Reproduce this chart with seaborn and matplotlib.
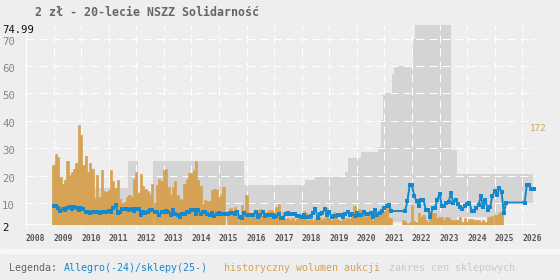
import numpy as np
import pandas as pd
import matplotlib
matplotlib.use("Agg")
import matplotlib.pyplot as plt
import seaborn as sns
from matplotlib.patches import Rectangle
from matplotlib.transforms import blended_transform_factory, ScaledTranslation

# Tytul i opis
title = "2 zł - 20-lecie NSZZ Solidarność"
legend_parts = [("Legenda: ", "#666666"), ("Allegro(-24)/sklepy(25-)", "#1688cc"),
                ("historyczny wolumen aukcji", "#d6a253"), ("zakres cen sklepowych", "#c9c9c9")]

# Miesieczne dane od stycznia 2009
first_year = 2009

allegro_price = [
    9.0, 9.0, 8.2, 7.2, 7.8, 7.6, 8.2, 8.4, 7.8, 8.5, 8.2, 7.6,           # 2009
    8.2, 7.8, 6.9, 6.7, 6.4, 6.6, 6.7, 6.9, 6.4, 6.6, 6.9, 6.7,           # 2010
    7.2, 6.9, 8.2, 9.4, 6.4, 6.7, 7.9, 7.9, 7.9, 7.6, 7.8, 7.2,           # 2011
    7.9, 7.9, 5.7, 6.9, 6.4, 6.9, 7.6, 7.3, 6.7, 6.7, 5.7, 6.7,           # 2012
    6.7, 7.1, 6.7, 5.8, 7.3, 6.1, 5.5, 4.9, 6.1, 6.1, 6.7, 6.7,           # 2013
    7.6, 7.6, 6.1, 7.3, 6.1, 6.7, 6.7, 6.1, 5.5, 6.4, 5.4, 6.1,           # 2014
    6.4, 6.1, 6.1, 6.1, 6.1, 6.4, 6.4, 6.1, 6.6, 4.9, 4.6, 6.4,           # 2015
    5.5, 5.5, 5.5, 5.5, 6.9, 4.9, 5.7, 6.6, 5.4, 5.7, 5.7, 5.7,           # 2016
    4.9, 5.4, 6.1, 4.6, 4.6, 6.1, 6.3, 6.1, 5.9, 6.1, 5.4, 5.4,           # 2017
    5.1, 5.7, 4.9, 4.9, 5.4, 6.4, 7.8, 4.6, 6.1, 6.5, 7.8, 5.7,           # 2018
    6.6, 5.1, 5.4, 5.4, 5.7, 5.7, 4.9, 6.1, 6.6, 5.7, 6.1, 5.4,           # 2019
    6.4, 5.7, 5.7, 6.6, 6.1, 6.1, 6.4, 5.1, 7.6, 5.8, 6.4, 7.2,           # 2020
    8.1, 8.8, 9.2, 7.1, np.nan, np.nan, np.nan, np.nan, np.nan, 7.1, 10.6, 16.5,  # 2021
    16.5, 12.6, 10.6, 9.0, 11.2, 11.2, 7.6, 7.6, 5.1, 8.1, 8.1, 11.2,     # 2022
    13.4, 9.0, 9.0, 10.0, 10.5, 13.8, 10.0, 11.2, 9.6, 8.5, 7.8, 8.8,     # 2023
    9.5, 10.2, 7.2, 7.2, 8.2, 9.4, 12.5, 8.4, 11.2, 7.6, 8.5, 12.5,       # 2024
    14.4, 12.8, 15.6, 14.2, 6.2, 10.2, np.nan, np.nan, np.nan, np.nan, np.nan, np.nan,  # 2025
    np.nan, 10.2, 16.5, 16.5, 15.3, 15.3,                                 # 2026
]

auction_volume = [
    23.9, 28.0, 26.9, 19.6, 17.0, 18.5, 25.4, 20.1, 21.5, 22.5, 24.7, 38.6,
    34.9, 24.0, 27.3, 21.5, 24.7, 22.5, 11.8, 20.3, 12.4, 22.2, 14.5, 13.9,
    14.9, 22.2, 18.2, 15.5, 18.5, 11.6, 10.2, 10.3, 12.2, 13.0, 12.2, 18.8,
    21.4, 13.6, 20.7, 16.3, 15.1, 14.5, 13.0, 17.0, 10.0, 16.7, 18.8, 17.9,
    22.2, 22.5, 15.8, 13.0, 15.7, 18.2, 13.0, 11.5, 11.2, 17.0, 18.8, 20.9,
    20.9, 22.0, 25.2, 18.5, 16.1, 9.8, 11.2, 10.9, 10.9, 14.9, 15.3, 14.7,
    12.4, 13.4, 15.8, np.nan, 5.7, 8.2, 5.7, 8.5, 6.6, 5.4, 9.4, 7.6,
    13.0, 6.4, 5.7, 6.9, 5.7, 7.6, 7.9, 5.4, 5.7, 6.9, 7.3, 7.6,
    6.6, 8.7, 9.8, 5.1, 6.9, 4.2, 4.6, 3.8, 4.4, 3.6, 4.2, 4.9,
    5.1, 7.2, 6.5, 4.0, 4.6, 3.6, 4.2, 5.4, 4.9, 3.8, 4.4, 8.2,
    4.6, 3.8, 6.8, 5.1, 4.0, 3.6, 4.4, 3.8, 4.6, 4.2, 5.4, 9.0,
    5.8, 7.9, 7.6, 7.0, 5.1, 5.5, 5.5, 3.9, 5.5, 5.5, 6.4, 7.0,
    7.0, 8.5, 4.5, 4.5, np.nan, np.nan, np.nan, np.nan, 3.9, 3.5, 2.9, 3.2,
    9.4, 3.5, 3.2, 6.4, 5.1, 5.8, 3.9, 3.2, 5.8, 6.2, 6.2, 4.5,
    5.1, 5.1, 3.9, 4.8, 4.5, 3.9, 3.9, 3.9, 3.9, 5.1, 3.2, 4.7,
    3.2, 4.2, 4.2, 3.9, 3.9, 3.9, 3.2, 3.9, 3.2, 5.1, 5.1, 5.4,
    5.8, 5.8, 6.2, 6.6,
]
volume_max_label = "172"

# Zakres cen sklepowych: granice okresow i poziomy
shop_dates = [2010.39, 2011.70, 2012.06, 2012.61, 2015.91, 2018.12, 2018.49, 2019.57,
              2019.68, 2020.16, 2020.77, 2020.86, 2020.95, 2021.02, 2021.28, 2021.35,
              2022.04, 2022.10, 2023.41, 2023.64, 2025.36, 2026.40]
shop_high = [15.5, 25.5, 14.0, 25.5, 16.5, 18.3, 19.5, 21.4, 26.3, 28.6, 30.4,
             40.4, 49.7, 50.0, 57.0, 60.0, 70.0, 74.99, 29.5, 20.5, 20.5]
shop_low = [4.0, 4.0, 4.0, 4.0, 3.5, 3.5, 3.5, 3.5, 3.5, 3.5, 3.5,
            3.5, 3.5, 3.0, 3.0, 3.0, 3.5, 3.5, 4.0, 5.0, 10.0]

year_ticks = list(range(2008, 2027))
price_ticks = [10, 20, 30, 40, 50, 60, 70]
price_min, price_max = 2, 74.99

BG = "#eeeeee"
BLUE = "#1688cc"
ORANGE = "#d6a253"
BAND = "#d4d4d4"

sns.set_theme(style="white", rc={"axes.facecolor": BG, "figure.facecolor": BG})
plt.rcParams["font.family"] = ["DejaVu Sans Mono"]

fig = plt.figure(figsize=(5.6, 2.8), dpi=100)
ax = fig.add_axes([26 / 560, 55 / 280, 510 / 560, 200 / 280])

prices = pd.DataFrame({"date": first_year + np.arange(len(allegro_price)) / 12,
                       "price": allegro_price}).dropna()
volume = pd.DataFrame({"date": first_year + np.arange(len(auction_volume)) / 12,
                       "volume": auction_volume}).dropna()

# Pasmo cen sklepowych
ax.fill_between(shop_dates, shop_low + shop_low[-1:], shop_high + shop_high[-1:],
                step="post", color=BAND, lw=0, zorder=1)

# Siatka
for v in price_ticks:
    ax.axhline(v, color="white", lw=0.72, dashes=(8, 5), zorder=2)
for yr in year_ticks[1:]:
    ax.axvline(yr, color="white", lw=0.72, dashes=(8, 5), zorder=2)
ax.axvline(year_ticks[0], color="white", lw=0.9, zorder=2)
ax.axhline(price_min, color="white", lw=1.2, zorder=2)

# Wolumen aukcji
ax.bar(volume["date"], volume["volume"] - price_min, bottom=price_min, width=1 / 12,
       color=ORANGE, edgecolor=ORANGE, lw=0.5, zorder=3)

# Ceny Allegro / sklepy
sns.lineplot(data=prices, x="date", y="price", ax=ax, color=BLUE, lw=1.4,
             marker="s", markersize=3.0, markeredgewidth=0, zorder=4, legend=False)

ax.set_xlim(2008, 2026.5)
ax.set_ylim(price_min, price_max)
ax.set_xlabel("")
ax.set_ylabel("")
for s in ax.spines.values():
    s.set_visible(False)

ax.set_xticks(year_ticks)
ax.set_xticklabels([str(y) for y in year_ticks], ha="left", fontsize=5.8,
                   fontweight="bold", color="#555555")
ax.tick_params(axis="x", length=2.2, width=0.72, color="white", pad=4.5, bottom=True)
ax.set_yticks([])

# Etykiety osi Y
ytrans = blended_transform_factory(fig.transFigure, ax.transData)
shift = ScaledTranslation(0, -3 / 100, fig.dpi_scale_trans)
for v in price_ticks:
    ax.text(2 / 560, v, str(v), transform=ytrans + shift, ha="left", va="center",
            fontsize=7.7, color="#888888")
ax.text(2 / 560, price_min, str(price_min), transform=ytrans + shift, ha="left",
        va="center", fontsize=7.7, color="#111111")
ax.text(2 / 560, price_max, f"{price_max:.2f}", transform=ytrans, ha="left",
        va="top", fontsize=7.7, color="#111111")

fig.text(538 / 560, 1 - 129 / 280, volume_max_label, ha="center", va="center",
         fontsize=6.7, color=ORANGE)

fig.text(35 / 560, 1 - 12.5 / 280, title, ha="left", va="center", fontsize=8.4,
         fontweight="bold", color="#666666")

# Pasek oddzielajacy i legenda
fig.patches.append(Rectangle((0, 27 / 280), 1, 4 / 280, transform=fig.transFigure,
                             color="#f7f7f7", zorder=0))
legend_x = [9.3, 63.5, 224, 389]
for (txt, col), lx in zip(legend_parts, legend_x):
    fig.text(lx / 560, 1 - 268 / 280, txt, ha="left", va="center", fontsize=7.2, color=col)

fig.savefig("out.png", dpi=100, facecolor=BG)
